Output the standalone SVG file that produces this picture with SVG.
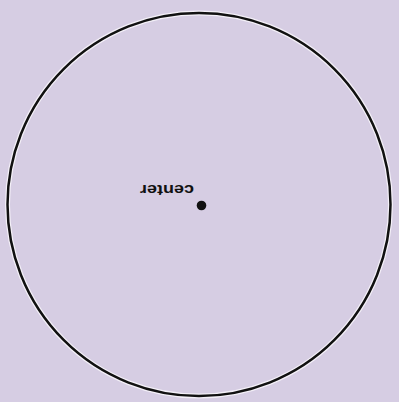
<svg xmlns="http://www.w3.org/2000/svg" width="399" height="402" viewBox="0 0 399 402">
<style>
.label{font-family:"Liberation Sans",Arial,sans-serif;font-size:14px;font-weight:bold;fill:#111}
</style>
<rect x="0" y="0" width="399" height="402" fill="#d6cde3"/>
<g id="circle">
<circle cx="199" cy="204.5" r="191.5" fill="none" stroke="#f4f0f8" stroke-width="5"/>
<circle cx="199" cy="204.5" r="191.5" fill="none" stroke="#111" stroke-width="2.5"/>
</g>
<g id="center">
<circle cx="201.5" cy="205.5" r="4.8" fill="#111"/>
<text class="label" x="0" y="0" text-anchor="middle" textLength="54" lengthAdjust="spacingAndGlyphs" transform="translate(167,184.5) rotate(180)">center</text>
</g>
</svg>
